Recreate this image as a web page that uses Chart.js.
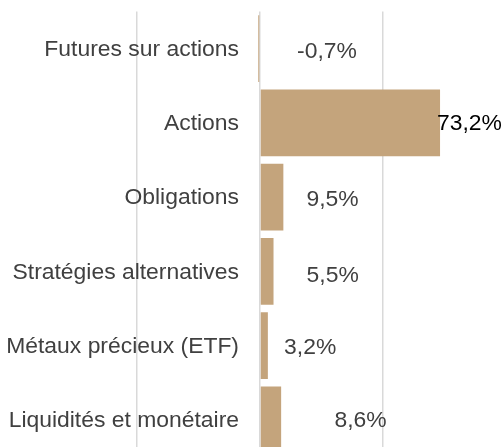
<!DOCTYPE html>
<html>
<head>
<meta charset="utf-8">
<script src="https://cdn.jsdelivr.net/npm/chart.js@4/dist/chart.umd.min.js"></script>
<style>
  html, body { margin: 0; padding: 0; background: #ffffff; overflow: hidden; }
  #wrap { width: 504px; height: 457px; position: relative; }
</style>
</head>
<body>
<div id="wrap"><canvas id="c"></canvas></div>
<script>
// ---- data ----
const categories = [
  "Futures sur actions",
  "Actions",
  "Obligations",
  "Stratégies alternatives",
  "Métaux précieux (ETF)",
  "Liquidités et monétaire"
];
const weights = [-0.7, 73.2, 9.5, 5.5, 3.2, 8.6];
const xTickValues = [-50, 0, 50];

// ---- label placement (style, not data) ----
const valueLabelDx = [67, 209.5, 72.5, 72.7, 50.2, 100.5];   // px from zero line (centre)
const valueLabelDy = [3, 0.5, 3, 4, 2, 0.5];
const valueLabelColor = ['#404040', '#000000', '#404040', '#404040', '#404040', '#404040'];

const FONT = '"Liberation Sans", Arial, sans-serif';

function fmt(v) { return v.toFixed(1).replace('.', ',') + '%'; }

const labelsPlugin = {
  id: 'labelsPlugin',
  afterDatasetsDraw(chart) {
    const ctx = chart.ctx;
    const xs = chart.scales.x, ys = chart.scales.y;
    const zero = xs.getPixelForValue(0);
    ctx.save();
    ctx.font = '22.9px ' + FONT;
    ctx.textBaseline = 'middle';
    categories.forEach((cat, i) => {
      const y = ys.getPixelForValue(i);
      ctx.fillStyle = '#404040';
      ctx.textAlign = 'right';
      ctx.fillText(cat, zero - 21, y + 1);
      ctx.fillStyle = valueLabelColor[i];
      ctx.textAlign = 'center';
      ctx.fillText(fmt(weights[i]), zero + valueLabelDx[i], y + valueLabelDy[i]);
    });
    ctx.restore();
  }
};

new Chart(document.getElementById('c'), {
  type: 'bar',
  data: {
    labels: categories,
    datasets: [{
      data: weights,
      backgroundColor: '#C4A47C',
      borderWidth: 0,
      barPercentage: 0.9,
      categoryPercentage: 1.0
    }]
  },
  options: {
    indexAxis: 'y',
    responsive: true,
    maintainAspectRatio: false,
    animation: false,
    layout: { padding: { top: 11.5, left: 0, right: 0, bottom: 0 } },
    plugins: { legend: { display: false }, tooltip: { enabled: false } },
    scales: {
      x: {
        min: -105.7,
        max: 99.2,
        afterBuildTicks(scale) { scale.ticks = xTickValues.map(v => ({ value: v })); },
        ticks: { display: false },
        border: { display: false },
        grid: { color: '#D9D9D9', lineWidth: 1.5, drawTicks: false }
      },
      y: {
        display: false
      }
    }
  },
  plugins: [labelsPlugin]
});
</script>
</body>
</html>
